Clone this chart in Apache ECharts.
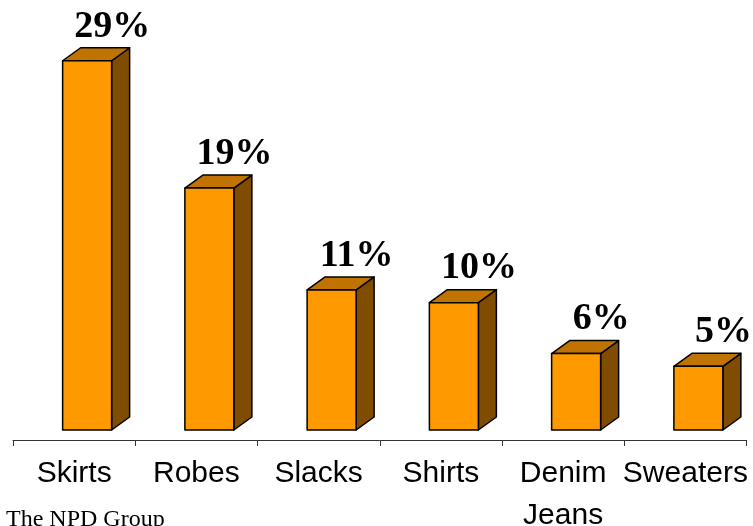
<!DOCTYPE html>
<html>
<head>
<meta charset="utf-8">
<script src="https://cdn.jsdelivr.net/npm/echarts@6/dist/echarts.min.js"></script>
<style>
  html, body { margin: 0; padding: 0; background: #fff; }
  #chart { width: 753px; height: 526px; }
</style>
</head>
<body>
<div id="chart"></div>
<script>
// Share of items by category (percent)
const categories = ['Skirts', 'Robes', 'Slacks', 'Shirts', 'Denim\nJeans', 'Sweaters'];
const shares = [29, 19, 11, 10, 6, 5];
const source = 'The NPD Group';

// Colours of the three visible faces of each box
const FRONT = '#FF9900';
const TOP = '#C07300';
const SIDE = '#7F4C00';
const DEPTH_X = 18;
const DEPTH_Y = 13;

const chart = echarts.init(document.getElementById('chart'));

function renderBox(params, api) {
  const idx = api.value(0);
  const val = api.value(1);
  const top = api.coord([idx, val]);
  const base = api.coord([idx, 0]);
  const x0 = top[0] - 11.5;
  const w = 49;
  const x1 = x0 + w;
  const yT = top[1];
  const yB = base[1];
  const stroke = { stroke: '#000', lineWidth: 1.5, lineJoin: 'round' };
  return {
    type: 'group',
    children: [
      {
        type: 'polygon',
        shape: { points: [[x1, yT], [x1 + DEPTH_X, yT - DEPTH_Y], [x1 + DEPTH_X, yB - DEPTH_Y], [x1, yB]] },
        style: Object.assign({ fill: SIDE }, stroke)
      },
      {
        type: 'polygon',
        shape: { points: [[x0, yT], [x0 + DEPTH_X, yT - DEPTH_Y], [x1 + DEPTH_X, yT - DEPTH_Y], [x1, yT]] },
        style: Object.assign({ fill: TOP }, stroke)
      },
      {
        type: 'rect',
        shape: { x: x0, y: yT, width: w, height: yB - yT },
        style: Object.assign({ fill: FRONT }, stroke)
      },
      {
        type: 'text',
        style: {
          text: val + '%',
          x: top[0] + 38,
          y: yT - 34,
          align: 'center',
          verticalAlign: 'middle',
          font: 'bold 38px "Liberation Serif", "Times New Roman", serif',
          fill: '#000'
        }
      }
    ]
  };
}

chart.setOption({
  animation: false,
  backgroundColor: '#fff',
  grid: { left: 13, right: 6.5, top: 48, bottom: 96, containLabel: false, outerBoundsMode: 'none' },
  xAxis: {
    type: 'category',
    data: categories,
    offset: 10,
    axisLine: { onZero: false, lineStyle: { color: '#333', width: 1 } },
    axisTick: { show: true, length: 6, lineStyle: { color: '#333' } },
    axisLabel: {
      interval: 0,
      margin: 13,
      fontSize: 30,
      lineHeight: 42,
      color: '#000',
      fontFamily: '"Liberation Sans", Arial, sans-serif'
    },
    splitLine: { show: false }
  },
  yAxis: {
    type: 'value',
    min: 0,
    max: 30,
    show: false,
    splitLine: { show: false }
  },
  graphic: [
    {
      type: 'text',
      left: 6,
      top: 508,
      style: {
        text: source,
        font: '24px "Liberation Serif", "Times New Roman", serif',
        fill: '#000'
      }
    }
  ],
  series: [
    {
      type: 'custom',
      renderItem: renderBox,
      encode: { x: 0, y: 1 },
      data: shares.map((v, i) => [i, v]),
      clip: false
    }
  ]
});
</script>
</body>
</html>
